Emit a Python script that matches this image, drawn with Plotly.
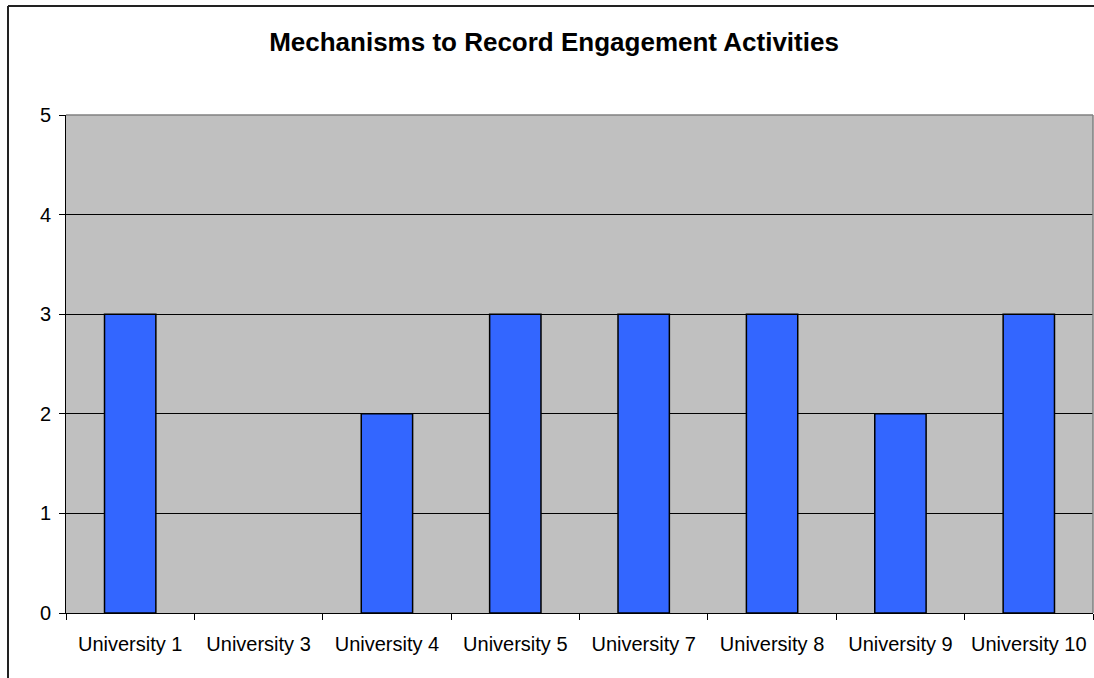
import plotly.graph_objects as go

# Chart data
universities = ["University 1", "University 3", "University 4", "University 5",
                "University 7", "University 8", "University 9", "University 10"]
mechanisms = [3, 0, 2, 3, 3, 3, 2, 3]
y_ticks = [0, 1, 2, 3, 4, 5]

W, H = 1094, 678
# plot area in pixels
PL, PR, PT, PB = 66, 1093, 115, 613

# empty bars get no outline so nothing sits on the baseline
outline_widths = [1.5 if v else 0 for v in mechanisms]

fig = go.Figure()
fig.add_trace(go.Bar(
    x=universities,
    y=mechanisms,
    width=0.4,
    marker=dict(color="#3366FF", line=dict(color="#000000", width=outline_widths)),
    showlegend=False,
))

font = dict(family="Liberation Sans, Arial, sans-serif", size=20, color="#000000")

fig.update_layout(
    width=W, height=H,
    margin=dict(l=0, r=0, t=0, b=0, autoexpand=False),
    paper_bgcolor="#FFFFFF",
    plot_bgcolor="#C0C0C0",
    font=font,
    title=dict(
        text="<b>Mechanisms to Record Engagement Activities</b>",
        x=554 / W, xanchor="center",
        y=1 - 42 / H, yanchor="middle",
        font=dict(family="Liberation Sans, Arial, sans-serif", size=26, color="#000000"),
    ),
    xaxis=dict(
        domain=[PL / W, PR / W],
        type="category",
        automargin=False,
        showgrid=False,
        showline=True, linecolor="#000000", linewidth=1,
        ticks="outside", tickson="boundaries", ticklen=6, tickcolor="#000000",
        tickfont=font,
        ticklabelstandoff=13,
    ),
    yaxis=dict(
        domain=[1 - PB / H, 1 - PT / H],
        range=[0, 5],
        tickvals=y_ticks,
        automargin=False,
        showgrid=True, gridcolor="#000000", gridwidth=1,
        showline=True, linecolor="#000000", linewidth=1,
        ticks="outside", ticklen=6, tickcolor="#000000",
        tickfont=font,
        zeroline=False,
        ticklabelstandoff=4,
    ),
    shapes=[
        # plot-area border (top and right)
        dict(type="line", xref="paper", yref="paper",
             x0=PL / W, x1=PR / W, y0=1 - PT / H, y1=1 - PT / H,
             line=dict(color="#808080", width=1.5)),
        dict(type="line", xref="paper", yref="paper",
             x0=PR / W, x1=PR / W, y0=1 - PT / H, y1=1 - PB / H,
             line=dict(color="#808080", width=1.5)),
        # chart frame
        dict(type="line", xref="paper", yref="paper",
             x0=8 / W, x1=1.0, y0=1 - 6 / H, y1=1 - 6 / H,
             line=dict(color="#222222", width=2)),
        dict(type="line", xref="paper", yref="paper",
             x0=8 / W, x1=8 / W, y0=1 - 6 / H, y1=0,
             line=dict(color="#222222", width=2)),
    ],
)

fig.write_html("out.html")
